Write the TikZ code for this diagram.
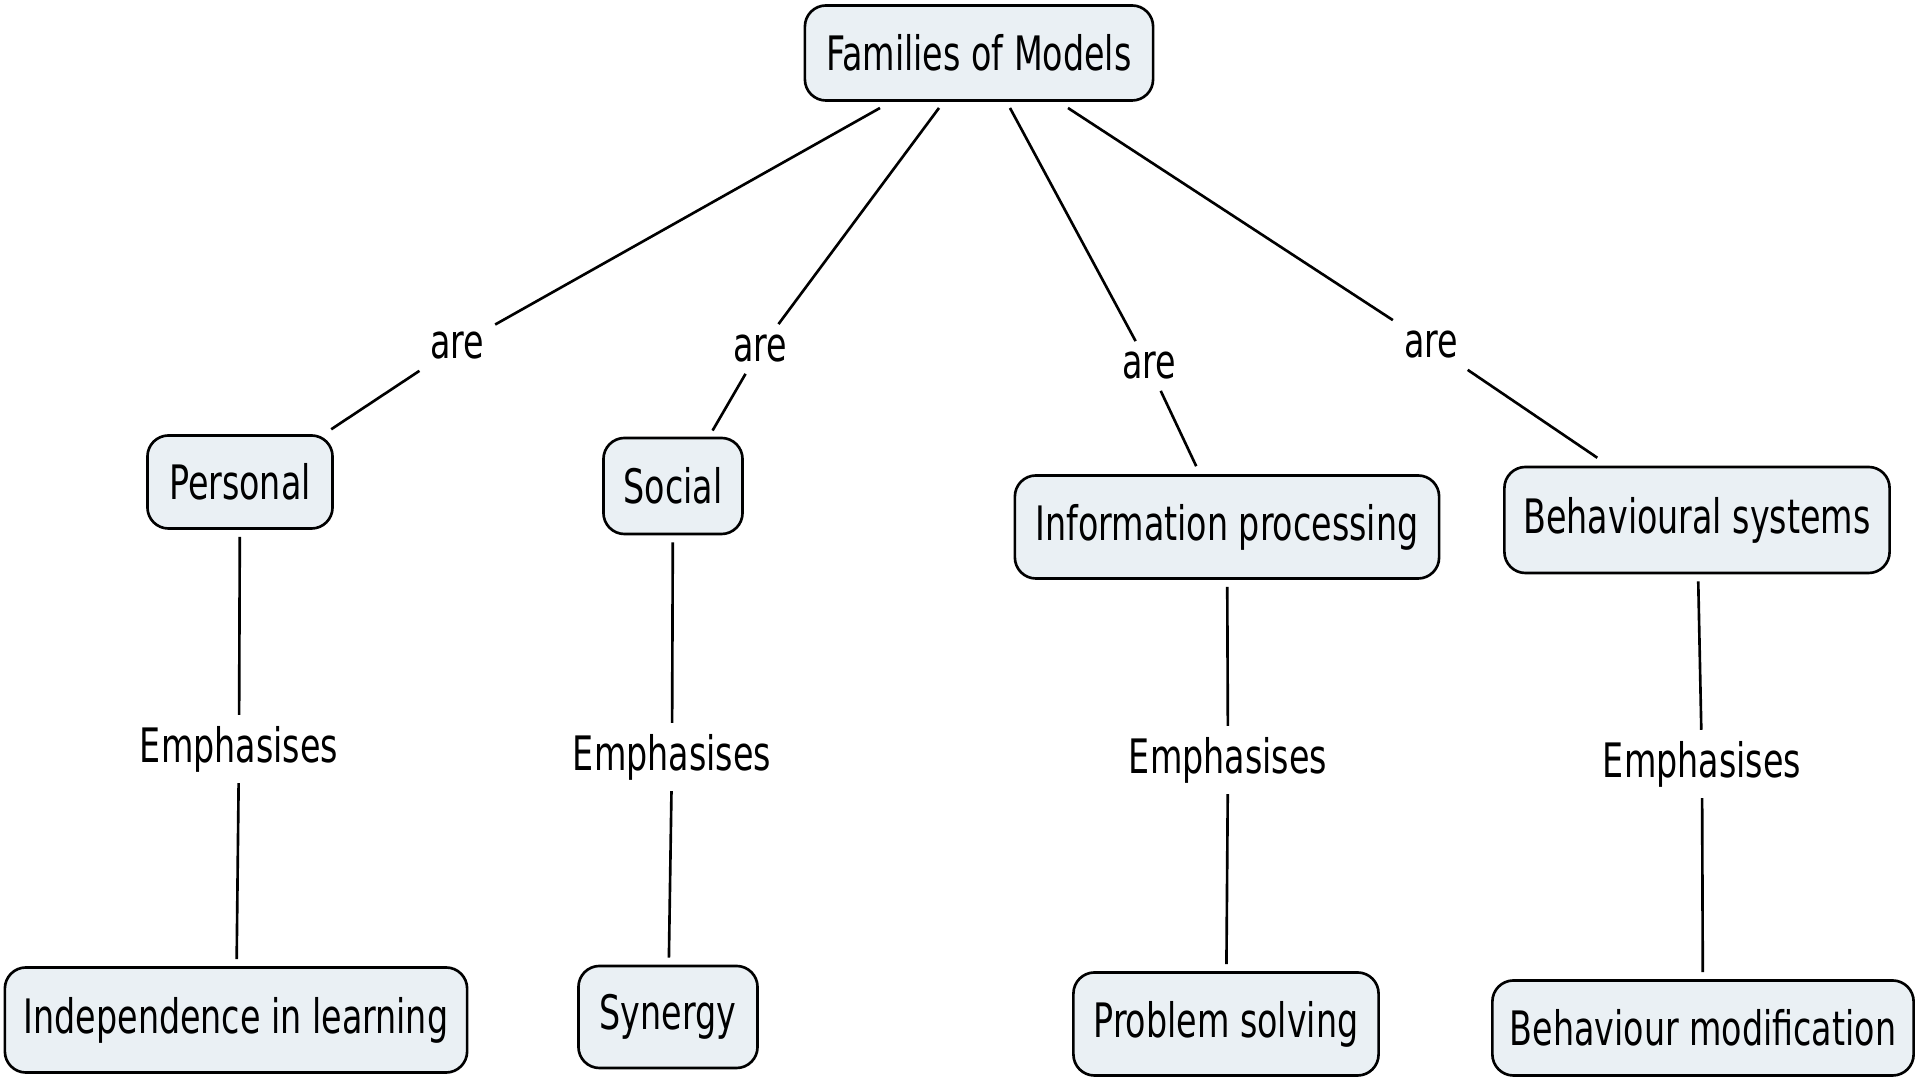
\documentclass[tikz,border=0pt]{standalone}
\usepackage{fontspec}
\setmainfont[FakeStretch=0.78]{DejaVu Sans Condensed}
\begin{document}
\begin{tikzpicture}[x=0.01cm,y=-0.01cm,
  concept/.style={draw=black, line width=0.75pt, rounded corners=6pt, fill=boxfill,
    inner sep=0pt, font=\fontsize{13.5}{16}\selectfont},
  linklabel/.style={inner sep=3pt, font=\fontsize{13.5}{16}\selectfont},
  link/.style={line width=0.75pt, draw=black}]
\definecolor{boxfill}{RGB}{234,240,244}
\useasboundingbox (0,0) rectangle (1920,1080);

% concept boxes
\node[concept, minimum width=3.48cm, minimum height=0.95cm] (fam) at (979,53) {Families of Models};
\node[concept, minimum width=1.85cm, minimum height=0.93cm] (pers) at (240,482) {Personal};
\node[concept, minimum width=1.39cm, minimum height=0.96cm] (soc) at (673,486) {Social};
\node[concept, minimum width=4.24cm, minimum height=1.03cm] (info) at (1227,527) {Information processing};
\node[concept, minimum width=3.85cm, minimum height=1.06cm] (beh) at (1697,520) {Behavioural systems};
\node[concept, minimum width=4.62cm, minimum height=1.05cm] (ind) at (236,1020) {Independence in learning};
\node[concept, minimum width=1.79cm, minimum height=1.02cm] (syn) at (668,1017) {Synergy};
\node[concept, minimum width=3.05cm, minimum height=1.03cm] (prob) at (1226,1024) {Problem solving};
\node[concept, minimum width=4.21cm, minimum height=0.95cm] (bmod) at (1703,1028) {Behaviour modification};

% link labels
\node[linklabel] (are1) at (457,346) {are};
\node[linklabel] (are2) at (760,349) {are};
\node[linklabel] (are3) at (1149,366) {are};
\node[linklabel] (are4) at (1431,345) {are};
\node[linklabel] (emp1) at (239,749) {Emphasises};
\node[linklabel] (emp2) at (672,757) {Emphasises};
\node[linklabel] (emp3) at (1228,760) {Emphasises};
\node[linklabel] (emp4) at (1702,764) {Emphasises};

% attachment points below the top box
\coordinate (s1) at (880,108);
\coordinate (s2) at (939,108);
\coordinate (s3) at (1010,108);
\coordinate (s4) at (1068,108);

% connectors from the top box to the families
\draw[link] (s1) -- (are1);
\draw[link, shorten >=2.5pt] (are1) -- ([xshift=-0.1cm]pers.north east);
\draw[link] (s2) -- (are2);
\draw[link, shorten >=2pt] (are2) -- ([xshift=0.36cm]soc.north);
\draw[link] (s3) -- (are3);
\draw[link, shorten >=2.5pt] (are3) -- ([xshift=-0.27cm]info.north);
\draw[link] (s4) -- (are4);
\draw[link, shorten >=4pt] (are4) -- ([xshift=-0.88cm]beh.north);

% connectors from the families to what they emphasise
\draw[link, shorten <=2pt] (pers) -- (emp1);
\draw[link, shorten >=2pt] (emp1) -- (ind);
\draw[link, shorten <=2pt] (soc) -- (emp2);
\draw[link, shorten >=2pt] (emp2) -- (syn);
\draw[link, shorten <=2pt] (info) -- (emp3);
\draw[link, shorten >=2pt] (emp3) -- (prob);
\draw[link, shorten <=2pt] (beh) -- (emp4);
\draw[link, shorten >=2pt] (emp4) -- (bmod);
\end{tikzpicture}
\end{document}
